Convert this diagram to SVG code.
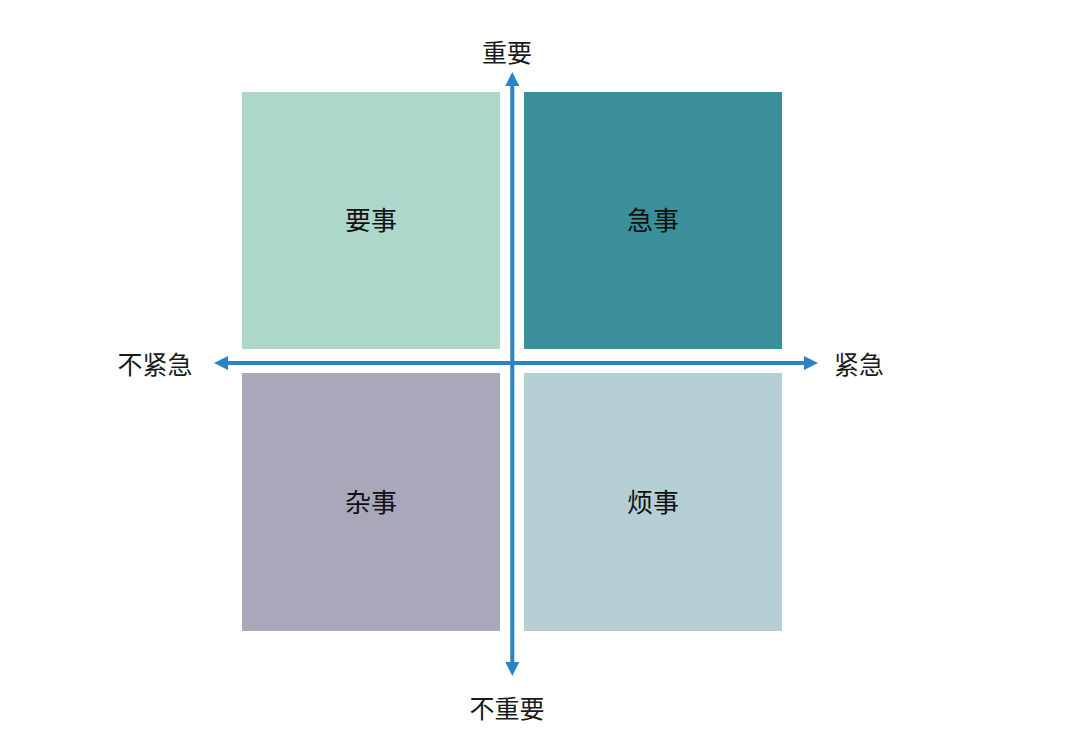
<svg xmlns="http://www.w3.org/2000/svg" width="1080" height="729" viewBox="0 0 1080 729">
<style>
.lbl{font-family:"Noto Sans CJK SC","Noto Sans",sans-serif;font-size:25px;fill:#1a1a1a;text-anchor:middle;dominant-baseline:central}
.q{font-family:"Noto Sans CJK SC","Noto Sans",sans-serif;font-size:26px;fill:#111;text-anchor:middle;dominant-baseline:central}
.ax{stroke:#2B83C6;stroke-width:4;fill:none}
</style>
<defs>
<marker id="ah" viewBox="0 0 14 14" refX="0" refY="7" markerWidth="14" markerHeight="14" markerUnits="userSpaceOnUse" orient="auto">
<path d="M0,0 L14,7 L0,14 Z" fill="#2B83C6"/>
</marker>
</defs>
<rect width="1080" height="729" fill="#ffffff"/>
<g id="node-yaoshi"><rect x="242" y="92" width="258" height="257" fill="#AED7CB"/><text class="q" x="371" y="218">要事</text></g>
<g id="node-jishi"><rect x="524" y="92" width="258" height="257" fill="#3A8F98"/><text class="q" x="653" y="218">急事</text></g>
<g id="node-zashi"><rect x="242" y="373" width="258" height="258" fill="#A9A8BB"/><text class="q" x="371" y="500">杂事</text></g>
<g id="node-fanshi"><rect x="524" y="373" width="258" height="258" fill="#B5CFD4"/><text class="q" x="653" y="500">烦事</text></g>
<g id="connectors">
<line class="ax" x1="512.3" y1="363" x2="512.3" y2="86" marker-end="url(#ah)"/>
<line class="ax" x1="512.3" y1="363" x2="512.3" y2="662" marker-end="url(#ah)"/>
<line class="ax" x1="512.3" y1="363" x2="228" y2="363" marker-end="url(#ah)"/>
<line class="ax" x1="512.3" y1="363" x2="804" y2="363" marker-end="url(#ah)"/>
</g>
<g id="labels">
<text class="lbl" x="507" y="51">重要</text>
<text class="lbl" x="507" y="707">不重要</text>
<text class="lbl" x="155" y="363">不紧急</text>
<text class="lbl" x="859" y="363">紧急</text>
</g>
</svg>
